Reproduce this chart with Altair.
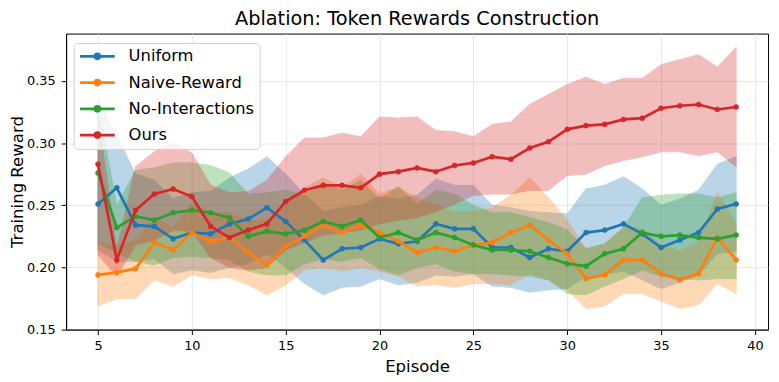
import altair as alt
import pandas as pd

episodes = list(range(5, 40))
methods = ["Uniform", "Naive-Reward", "No-Interactions", "Ours"]
colors = ["#1f77b4", "#ff7f0e", "#2ca02c", "#d62728"]

uniform_mean = [0.251, 0.264, 0.234, 0.233, 0.223, 0.228, 0.227, 0.235, 0.239, 0.248, 0.237, 0.222, 0.206, 0.215, 0.216, 0.223, 0.219, 0.221, 0.235, 0.231, 0.231, 0.216, 0.216, 0.208, 0.215, 0.213, 0.228, 0.230, 0.235, 0.227, 0.216, 0.222, 0.228, 0.247, 0.251]
uniform_hi = [0.335, 0.306, 0.275, 0.270, 0.255, 0.260, 0.261, 0.272, 0.279, 0.289, 0.275, 0.259, 0.245, 0.248, 0.250, 0.257, 0.255, 0.258, 0.271, 0.266, 0.266, 0.250, 0.248, 0.245, 0.244, 0.243, 0.263, 0.266, 0.273, 0.263, 0.250, 0.255, 0.262, 0.283, 0.289]
uniform_lo = [0.214, 0.205, 0.205, 0.207, 0.195, 0.198, 0.196, 0.200, 0.203, 0.211, 0.200, 0.187, 0.178, 0.184, 0.185, 0.191, 0.186, 0.188, 0.194, 0.193, 0.195, 0.185, 0.184, 0.180, 0.182, 0.183, 0.193, 0.195, 0.197, 0.190, 0.183, 0.188, 0.194, 0.211, 0.213]

naive_mean = [0.194, 0.196, 0.199, 0.220, 0.214, 0.228, 0.221, 0.224, 0.212, 0.202, 0.217, 0.225, 0.234, 0.228, 0.234, 0.228, 0.221, 0.212, 0.216, 0.213, 0.218, 0.220, 0.228, 0.234, 0.222, 0.211, 0.191, 0.194, 0.206, 0.206, 0.195, 0.190, 0.195, 0.224, 0.206]
naive_hi = [0.220, 0.218, 0.221, 0.240, 0.232, 0.251, 0.244, 0.244, 0.238, 0.238, 0.250, 0.264, 0.272, 0.264, 0.275, 0.259, 0.264, 0.256, 0.250, 0.245, 0.245, 0.248, 0.258, 0.272, 0.256, 0.238, 0.215, 0.219, 0.232, 0.231, 0.218, 0.213, 0.220, 0.260, 0.235]
naive_lo = [0.169, 0.175, 0.175, 0.190, 0.185, 0.194, 0.191, 0.192, 0.186, 0.178, 0.186, 0.198, 0.200, 0.197, 0.200, 0.197, 0.193, 0.185, 0.186, 0.184, 0.187, 0.187, 0.186, 0.195, 0.190, 0.182, 0.167, 0.169, 0.179, 0.179, 0.173, 0.167, 0.170, 0.187, 0.179]

noint_mean = [0.276, 0.232, 0.241, 0.238, 0.244, 0.246, 0.244, 0.240, 0.225, 0.229, 0.227, 0.230, 0.237, 0.233, 0.238, 0.224, 0.228, 0.222, 0.228, 0.224, 0.218, 0.214, 0.214, 0.213, 0.208, 0.203, 0.201, 0.211, 0.215, 0.228, 0.225, 0.226, 0.224, 0.223, 0.226]
noint_hi = [0.330, 0.250, 0.278, 0.280, 0.284, 0.284, 0.282, 0.276, 0.259, 0.260, 0.262, 0.258, 0.268, 0.262, 0.270, 0.255, 0.265, 0.251, 0.262, 0.259, 0.250, 0.244, 0.244, 0.240, 0.236, 0.230, 0.215, 0.219, 0.232, 0.256, 0.258, 0.259, 0.259, 0.256, 0.260]
noint_lo = [0.219, 0.212, 0.205, 0.202, 0.208, 0.209, 0.208, 0.206, 0.197, 0.194, 0.194, 0.203, 0.207, 0.205, 0.208, 0.199, 0.194, 0.200, 0.203, 0.197, 0.195, 0.195, 0.194, 0.193, 0.190, 0.179, 0.178, 0.185, 0.191, 0.198, 0.193, 0.191, 0.190, 0.191, 0.191]

ours_mean = [0.283, 0.206, 0.246, 0.259, 0.263, 0.257, 0.233, 0.224, 0.230, 0.235, 0.253, 0.262, 0.266, 0.266, 0.264, 0.275, 0.277, 0.280, 0.277, 0.282, 0.284, 0.289, 0.287, 0.296, 0.301, 0.311, 0.314, 0.315, 0.319, 0.320, 0.328, 0.330, 0.331, 0.327, 0.329]
ours_hi = [0.322, 0.215, 0.281, 0.293, 0.300, 0.292, 0.266, 0.260, 0.261, 0.270, 0.289, 0.304, 0.304, 0.308, 0.305, 0.321, 0.320, 0.321, 0.310, 0.309, 0.305, 0.315, 0.317, 0.331, 0.339, 0.347, 0.353, 0.347, 0.352, 0.352, 0.363, 0.367, 0.371, 0.361, 0.377]
ours_lo = [0.210, 0.193, 0.218, 0.222, 0.230, 0.229, 0.208, 0.200, 0.198, 0.200, 0.214, 0.220, 0.226, 0.228, 0.230, 0.235, 0.238, 0.240, 0.245, 0.251, 0.258, 0.259, 0.259, 0.262, 0.262, 0.274, 0.275, 0.282, 0.286, 0.289, 0.293, 0.293, 0.290, 0.293, 0.281]

series = {
    "Uniform": (uniform_mean, uniform_lo, uniform_hi),
    "Naive-Reward": (naive_mean, naive_lo, naive_hi),
    "No-Interactions": (noint_mean, noint_lo, noint_hi),
    "Ours": (ours_mean, ours_lo, ours_hi),
}

x_ticks = [5, 10, 15, 20, 25, 30, 35, 40]
y_ticks = [0.15, 0.20, 0.25, 0.30, 0.35]

FONT = "DejaVu Sans"

color_scale = alt.Scale(domain=methods, range=colors)
y_scale = alt.Scale(domain=[0.15, 0.388], nice=False, zero=False)
x_enc = alt.X("Episode:Q", scale=alt.Scale(domain=[3.3, 40.7], nice=False, zero=False),
              axis=alt.Axis(values=x_ticks, title="Episode", format="d",
                            labelPadding=5.5, titlePadding=6))
y_enc = alt.Y("Reward:Q", scale=y_scale,
              axis=alt.Axis(values=y_ticks, title="Training Reward", format=".2f",
                            labelPadding=6, titlePadding=0))

legend_path = "M-2.5,0H2.5M-0.36,0A0.36,0.36,0,1,1,0.36,0A0.36,0.36,0,1,1,-0.36,0Z"
legend = alt.Legend(
    title=None, orient="none", legendX=7.6, legendY=9.5,
    symbolType=legend_path, symbolSize=196, symbolStrokeWidth=2.7,
    symbolOffset=10.5, labelOffset=23,
    labelFontSize=16.5, labelFont=FONT, labelColor="black",
    padding=5, rowPadding=9.5, cornerRadius=4,
    strokeColor="#d0d0d0", fillColor="rgba(255,255,255,0.8)",
    symbolOpacity=1,
)

df = pd.concat([
    pd.DataFrame({"Episode": episodes, "Reward": series[m][0], "Lo": series[m][1],
                  "Hi": series[m][2], "Method": m})
    for m in methods
], ignore_index=True)

fill_enc = alt.Fill("Method:N", scale=color_scale, legend=legend, sort=methods)
stroke_enc = alt.Stroke("Method:N", scale=color_scale, legend=legend, sort=methods)

layers = []
# bands first (matplotlib draws fill_between collections below lines)
for m in methods:
    layers.append(alt.Chart(df).transform_filter(alt.datum.Method == m).mark_area(
        opacity=0.3, strokeWidth=1).encode(
        x=x_enc, y=alt.Y("Lo:Q", scale=y_scale), y2="Hi:Q",
        fill=fill_enc, stroke=stroke_enc))
for m in methods:
    base = alt.Chart(df).transform_filter(alt.datum.Method == m)
    layers.append(base.mark_line(strokeWidth=2.7).encode(x=x_enc, y=y_enc, stroke=stroke_enc))
    layers.append(base.mark_point(filled=True, size=26, opacity=1, strokeWidth=0.5).encode(
        x=x_enc, y=y_enc, fill=fill_enc, stroke=stroke_enc))

chart = alt.layer(*layers).properties(
    width=709, height=299,
    title=alt.TitleParams("Ablation: Token Rewards Construction", font=FONT, fontSize=19.5,
                          fontWeight="normal", color="black", anchor="middle", offset=4.5),
    autosize=alt.AutoSizeParams(type="none"),
    padding={"left": 58.7, "top": 24, "right": 3, "bottom": 45},
).configure_view(stroke="black", strokeWidth=1).configure_axis(
    labelFont=FONT, titleFont=FONT, labelFontSize=13, titleFontSize=16.7,
    titleFontWeight="normal", labelColor="black", titleColor="black",
    domainColor="black", tickColor="black", tickSize=5,
    gridColor="#e0e0e0", gridWidth=0.8,
)

chart.save("out.html", embed_options={"renderer": "svg", "actions": False})
